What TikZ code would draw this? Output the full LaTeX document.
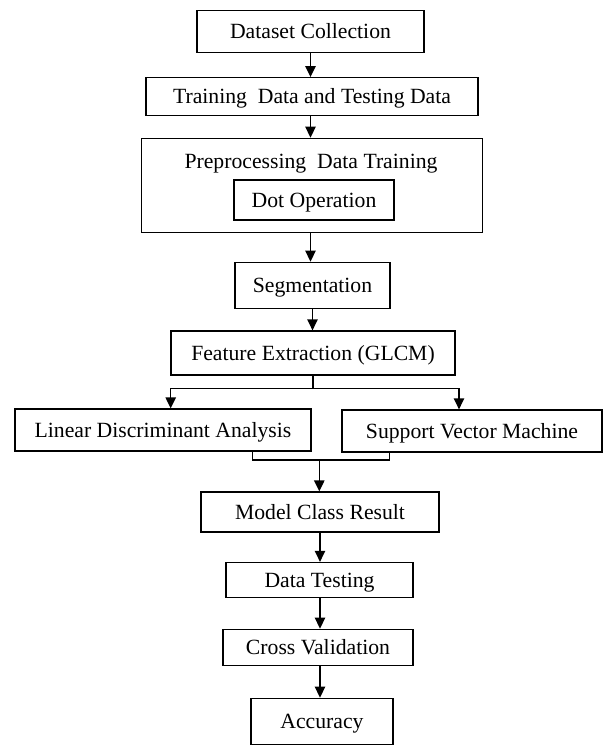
\documentclass[tikz,border=0pt]{standalone}
\usepackage{fontspec}
\setmainfont{Liberation Serif}
\usetikzlibrary{arrows.meta}
\begin{document}
\begin{tikzpicture}[x=0.5pt,y=-0.5pt,
  box/.style={draw=black, line width=0.65pt, inner sep=0pt, align=center, text height=7.2pt, text depth=0pt, font=\fontsize{10.85pt}{13pt}\selectfont},
  lbl/.style={inner sep=0pt, text height=7.2pt, text depth=0pt, font=\fontsize{10.85pt}{13pt}\selectfont},
  conn/.style={draw=black, line width=0.65pt},
  arr/.style={conn, -{Triangle[length=5.5pt,width=5.2pt]}}]
\useasboundingbox (0,0) rectangle (606,745);
% boxes
\node[box, minimum width=113.5pt, minimum height=21pt] (ds) at (310.5,31.4) {Dataset Collection};
\node[box, minimum width=166pt, minimum height=18.8pt] (tr) at (312,96.5) {Training\ \ Data and Testing Data};
\node[box, minimum width=170.5pt, minimum height=47pt] (pre) at (312.2,185.3) {};
\node[lbl] (pret) at (311,161.7) {Preprocessing\ \ Data Training};
\node[box, minimum width=80pt, minimum height=20pt] (dot) at (314,200) {Dot Operation};
\node[box, minimum width=77.5pt, minimum height=23pt] (seg) at (312.5,285.3) {Segmentation};
\node[box, minimum width=142pt, minimum height=22pt] (fe) at (313,353) {Feature Extraction (GLCM)};
\node[box, minimum width=148pt, minimum height=21pt] (lda) at (163,430) {Linear Discriminant Analysis};
\node[box, minimum width=130pt, minimum height=21pt] (svm) at (472,431) {Support Vector Machine};
\node[box, minimum width=119pt, minimum height=20pt] (mcr) at (320,512) {Model Class Result};
\node[box, minimum width=93.5pt, minimum height=17.5pt] (dt) at (319.5,580) {Data Testing};
\node[box, minimum width=95pt, minimum height=18.2pt] (cv) at (318,647.5) {Cross Validation};
\node[box, minimum width=71pt, minimum height=23pt] (acc) at (322,721.3) {Accuracy};
% helper coordinates
\coordinate (split) at (313,388.3);
\coordinate (sl) at (170.7,388.3);
\coordinate (sr) at (459,388.3);
\coordinate (jl) at (252.3,460);
\coordinate (jr) at (389.3,460);
\coordinate (jm) at (319.3,460);
% connectors
\draw[arr] (ds.south) -- (ds.south |- tr.north);
\draw[arr] (ds.south |- tr.south) -- (ds.south |- pre.north);
\draw[arr] (ds.south |- pre.south) -- (ds.south |- seg.north);
\draw[arr] (seg.south) -- (seg.south |- fe.north);
\draw[conn] (fe.south) -- (fe.south |- split);
\draw[conn] (sl) -- (sr);
\draw[arr] (sl) -- (sl |- lda.north);
\draw[arr] (sr) -- (sr |- svm.north);
\draw[conn] (jl |- lda.south) -- (jl) -- (jr) -- (jr |- svm.south);
\draw[arr] (jm) -- (jm |- mcr.north);
\draw[arr] (mcr.south) -- (mcr.south |- dt.north);
\draw[arr] (mcr.south |- dt.south) -- (mcr.south |- cv.north);
\draw[arr] (mcr.south |- cv.south) -- (mcr.south |- acc.north);
\end{tikzpicture}
\end{document}
